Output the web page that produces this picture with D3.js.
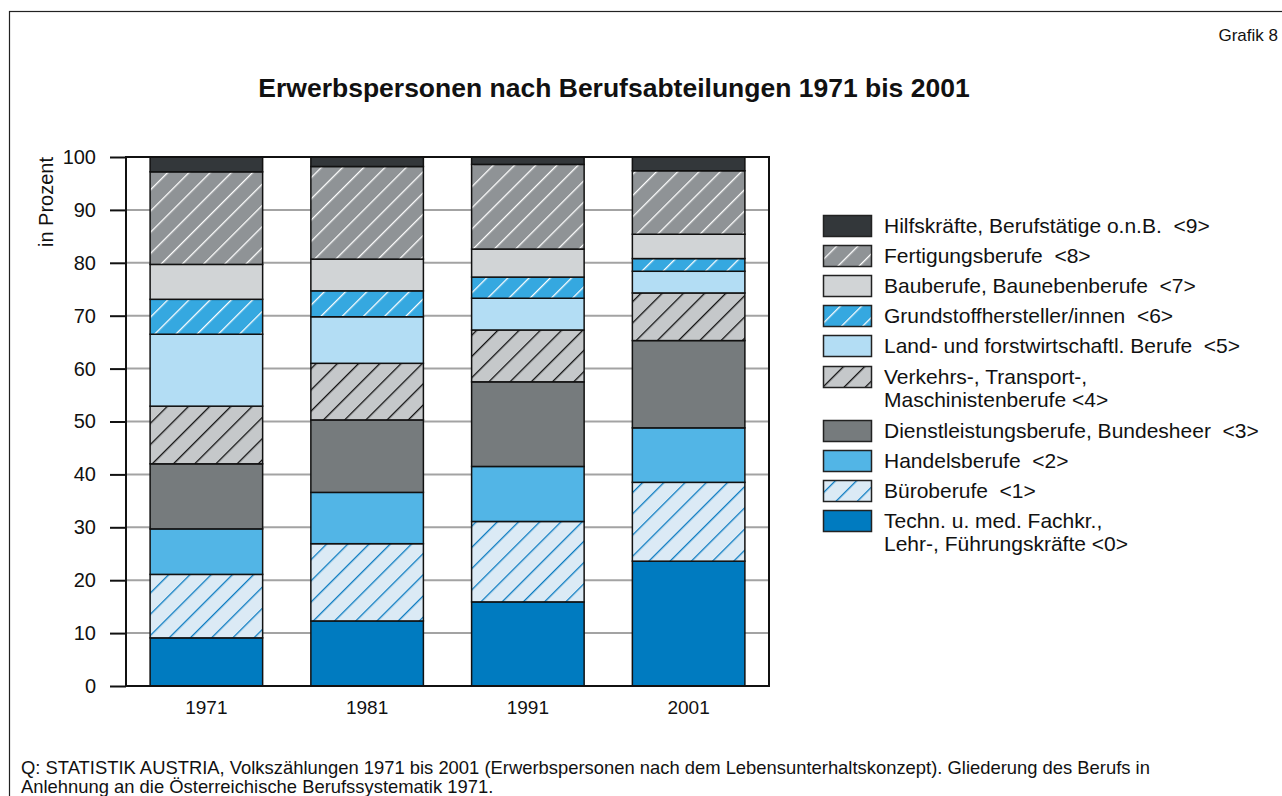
<!DOCTYPE html>
<html>
<head>
<meta charset="utf-8">
<script src="https://cdn.jsdelivr.net/npm/d3@7"></script>
<style>
  body { margin: 0; background: #fff; }
  text { font-family: "Liberation Sans", Arial, sans-serif; fill: #111; white-space: pre; }
</style>
</head>
<body>
<div id="chart"></div>
<script>
// years on the x axis
var years = ['1971', '1981', '1991', '2001']

// Berufsabteilungen <0> .. <9>, bottom to top of the stack
var keys = ['c0', 'c1', 'c2', 'c3', 'c4', 'c5', 'c6', 'c7', 'c8', 'c9']
var labels = [
    ['Techn. u. med. Fachkr.,', 'Lehr-, Führungskräfte <0>'],
    ['Büroberufe  <1>'],
    ['Handelsberufe  <2>'],
    ['Dienstleistungsberufe, Bundesheer  <3>'],
    ['Verkehrs-, Transport-,', 'Maschinistenberufe <4>'],
    ['Land- und forstwirtschaftl. Berufe  <5>'],
    ['Grundstoffhersteller/innen  <6>'],
    ['Bauberufe, Baunebenberufe  <7>'],
    ['Fertigungsberufe  <8>'],
    ['Hilfskräfte, Berufstätige o.n.B.  <9>']
]

// shares in percent (same order as keys)
var v1971 = [9.1, 12.0, 8.6, 12.3, 10.9, 13.6, 6.6, 6.6, 17.5, 2.8]
var v1981 = [12.3, 14.6, 9.7, 13.7, 10.7, 8.8, 4.9, 6.0, 17.5, 1.8]
var v1991 = [15.9, 15.2, 10.4, 16.0, 9.8, 6.0, 4.0, 5.3, 16.0, 1.4]
var v2001 = [23.6, 14.9, 10.3, 16.5, 9.0, 4.1, 2.4, 4.6, 12.0, 2.6]

var yTicks = [0, 10, 20, 30, 40, 50, 60, 70, 80, 90, 100]

// fill colour, hatch colour (null = plain)
var fills = ['#007bc0', '#dbeaf5', '#52b5e6', '#767b7d', '#c5c8ca', '#b3ddf4', '#35a8e0', '#d1d4d6', '#8f9396', '#33373a']
var hatch = [null, '#0a7bc1', null, null, '#111', null, '#fff', null, '#fff', null]

var data = [v1971, v1981, v1991, v2001].map(function (v, i) {
    var row = { year: years[i] }
    keys.forEach(function (k, j) { row[k] = v[j] })
    return row
})

var W = 1282, H = 796
var svg = d3.select('#chart').append('svg')
    .attr('width', W)
    .attr('height', H)

// hatch patterns
var defs = svg.append('defs')
keys.forEach(function (k, i) {
    if (!hatch[i]) return
    var p = defs.append('pattern')
        .attr('id', 'h' + i)
        .attr('patternUnits', 'userSpaceOnUse')
        .attr('width', 15)
        .attr('height', 15)
        .attr('patternTransform', 'rotate(45)')
    p.append('rect').attr('width', 15).attr('height', 15).attr('fill', fills[i])
    p.append('line')
        .attr('x1', 0).attr('y1', -1).attr('x2', 0).attr('y2', 16)
        .attr('stroke', hatch[i]).attr('stroke-width', 2.6)
})
function fillOf(i) { return hatch[i] ? 'url(#h' + i + ')' : fills[i] }

// outer frame
svg.append('rect')
    .attr('x', 9.5).attr('y', 11.5)
    .attr('width', W).attr('height', H)
    .attr('fill', 'none').attr('stroke', '#222').attr('stroke-width', 1.2)

svg.append('text')
    .attr('x', 1278).attr('y', 41)
    .attr('text-anchor', 'end')
    .style('font-size', '17px')
    .text('Grafik 8')

svg.append('text')
    .attr('x', 614).attr('y', 97)
    .attr('text-anchor', 'middle')
    .style('font-size', '26.5px')
    .style('font-weight', 'bold')
    .text('Erwerbspersonen nach Berufsabteilungen 1971 bis 2001')

// plot area
var pLeft = 126, pRight = 769, pTop = 157, pBottom = 686
var x = d3.scaleBand().domain(years).range([pLeft, pRight]).paddingInner(0.3).paddingOuter(0.15)
var y = d3.scaleLinear().domain([0, 100]).range([pBottom, pTop])

var g = svg.append('g')

// gray gridlines
g.selectAll('.grid')
    .data(yTicks.slice(1, -1))
    .enter().append('line')
    .attr('x1', pLeft).attr('x2', pRight)
    .attr('y1', function (d) { return y(d) }).attr('y2', function (d) { return y(d) })
    .attr('stroke', '#a3a3a3').attr('stroke-width', 2)

var stack = d3.stack().keys(keys)
var series = stack(data)

g.selectAll('.layer')
    .data(series)
    .enter().append('g')
    .attr('class', 'layer')
    .selectAll('rect')
    .data(function (s, i) { return s.map(function (d) { return { d: d, i: i } }) })
    .enter().append('rect')
    .attr('x', function (o) { return x(o.d.data.year) })
    .attr('width', x.bandwidth())
    .attr('y', function (o) { return y(o.d[1]) })
    .attr('height', function (o) { return y(o.d[0]) - y(o.d[1]) })
    .attr('fill', function (o) { return fillOf(o.i) })
    .attr('stroke', '#111')
    .attr('stroke-width', 1.5)

// plot frame
g.append('rect')
    .attr('x', pLeft).attr('y', pTop)
    .attr('width', pRight - pLeft).attr('height', pBottom - pTop)
    .attr('fill', 'none').attr('stroke', '#111').attr('stroke-width', 2)

// y axis
var yAxis = d3.axisLeft(y).tickValues(yTicks).tickSize(16).tickPadding(14)
var gy = svg.append('g')
    .attr('transform', 'translate(' + pLeft + ',0)')
    .call(yAxis)
gy.select('.domain').remove()
gy.selectAll('.tick line').attr('stroke', '#111').attr('stroke-width', 2)
gy.selectAll('.tick text')
    .style('font-size', '20px')
    .style('font-family', '"Liberation Sans", Arial, sans-serif')
    .attr('fill', '#111')

// x axis labels
var xAxis = d3.axisBottom(x).tickSize(0).tickPadding(15)
var gx = svg.append('g')
    .attr('transform', 'translate(0,' + pBottom + ')')
    .call(xAxis)
gx.select('.domain').remove()
gx.selectAll('.tick text')
    .style('font-size', '19px')
    .style('font-family', '"Liberation Sans", Arial, sans-serif')
    .attr('fill', '#111')

svg.append('text')
    .attr('transform', 'translate(53,202) rotate(-90)')
    .attr('text-anchor', 'middle')
    .style('font-size', '20px')
    .text('in Prozent')

// legend, <9> at the top
var legendTop = [215, 245, 275, 305, 335, 366, 420, 450, 480, 510]
var order = d3.range(9, -1, -1)
var lg = svg.append('g')
order.forEach(function (i, r) {
    var yy = legendTop[r]
    lg.append('rect')
        .attr('x', 823.5).attr('y', yy + 0.5)
        .attr('width', 48).attr('height', 21)
        .attr('fill', fillOf(i))
        .attr('stroke', '#222').attr('stroke-width', 1.5)
    var t = lg.append('text')
        .attr('x', 884).attr('y', yy + 18)
        .style('font-size', '21px')
    labels[i].forEach(function (line, li) {
        t.append('tspan').attr('x', 884).attr('dy', li === 0 ? 0 : 23).text(line)
    })
})

// source note
var note = svg.append('text')
    .attr('x', 21).attr('y', 774)
    .style('font-size', '18.4px')
note.append('tspan').attr('x', 21).text('Q: STATISTIK AUSTRIA, Volkszählungen 1971 bis 2001 (Erwerbspersonen nach dem Lebensunterhaltskonzept). Gliederung des Berufs in')
note.append('tspan').attr('x', 21).attr('dy', 19).text('Anlehnung an die Österreichische Berufssystematik 1971.')
</script>
</body>
</html>
